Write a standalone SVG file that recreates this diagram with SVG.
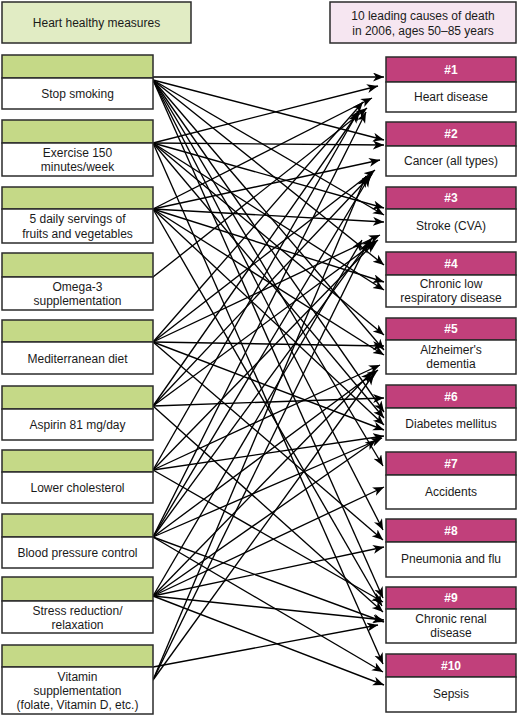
<svg xmlns="http://www.w3.org/2000/svg" width="518" height="717" viewBox="0 0 518 717">
<defs>
<style>
.hl{fill:#e1ecc4;stroke:#2b2b2b;stroke-width:1.5}
.hr{fill:#f6e6f1;stroke:#2b2b2b;stroke-width:1.5}
.g{fill:#c5d987;stroke:#2b2b2b;stroke-width:1.5}
.w{fill:#ffffff;stroke:#2b2b2b;stroke-width:1.5}
.m{fill:#c1407b;stroke:#2b2b2b;stroke-width:1.5}
text{font-family:"Liberation Sans",Arial,sans-serif;font-size:12px;fill:#1a1a1a;text-anchor:middle}
.n{fill:#ffffff;font-weight:bold}
#conn line{stroke:#000;stroke-width:1.35;marker-end:url(#ah)}
</style>
<marker id="ah" markerUnits="userSpaceOnUse" markerWidth="12" markerHeight="10" refX="11" refY="4.5" orient="auto">
<path d="M0,0 L11,4.5 L0,9 L3,4.5 z" fill="#000"/>
</marker>
</defs>
<rect width="518" height="717" fill="#ffffff"/>

<g id="header-left"><rect class="hl" x="2" y="2" width="189" height="41"/><text x="96.5" y="27">Heart healthy measures</text></g>
<g id="header-right"><rect class="hr" x="330" y="2" width="186" height="41"/><text x="423" y="20">10 leading causes of death</text><text x="423" y="35">in 2006, ages 50–85 years</text></g>

<g id="conn">
<line x1="152" y1="77" x2="384" y2="77"/>
<line x1="153" y1="80" x2="384" y2="140"/>
<line x1="153" y1="80" x2="384" y2="215"/>
<line x1="153" y1="80" x2="384" y2="265"/>
<line x1="153" y1="80" x2="384" y2="350"/>
<line x1="153" y1="80" x2="384" y2="412"/>
<line x1="153" y1="80" x2="383" y2="466"/>
<line x1="153" y1="80" x2="383" y2="530"/>
<line x1="153" y1="80" x2="383" y2="598"/>

<line x1="153" y1="143" x2="378" y2="86"/>
<line x1="153" y1="143" x2="384" y2="145"/>
<line x1="153" y1="143" x2="384" y2="208"/>
<line x1="153" y1="143" x2="384" y2="290"/>
<line x1="153" y1="143" x2="384" y2="335"/>
<line x1="153" y1="143" x2="384" y2="418"/>
<line x1="153" y1="143" x2="383" y2="664"/>

<line x1="153" y1="209" x2="372" y2="98"/>
<line x1="153" y1="209" x2="380" y2="160"/>
<line x1="153" y1="209" x2="384" y2="222"/>
<line x1="153" y1="209" x2="384" y2="282"/>
<line x1="153" y1="209" x2="384" y2="355"/>
<line x1="153" y1="209" x2="384" y2="425"/>
<line x1="153" y1="209" x2="382" y2="606"/>

<line x1="153" y1="277" x2="367" y2="108"/>

<line x1="153" y1="342" x2="363" y2="102"/>
<line x1="153" y1="342" x2="375" y2="170"/>
<line x1="153" y1="342" x2="380" y2="235"/>
<line x1="153" y1="342" x2="384" y2="346"/>
<line x1="153" y1="342" x2="384" y2="430"/>
<line x1="153" y1="342" x2="383" y2="540"/>

<line x1="153" y1="406" x2="360" y2="110"/>
<line x1="153" y1="406" x2="372" y2="174"/>
<line x1="153" y1="406" x2="378" y2="240"/>
<line x1="153" y1="406" x2="384" y2="398"/>
<line x1="153" y1="406" x2="383" y2="612"/>

<line x1="153" y1="470" x2="358" y2="112"/>
<line x1="153" y1="470" x2="375" y2="242"/>
<line x1="153" y1="470" x2="380" y2="365"/>
<line x1="153" y1="470" x2="384" y2="436"/>
<line x1="153" y1="470" x2="383" y2="602"/>

<line x1="153" y1="537" x2="366" y2="112"/>
<line x1="153" y1="537" x2="370" y2="176"/>
<line x1="153" y1="537" x2="372" y2="238"/>
<line x1="153" y1="537" x2="378" y2="370"/>
<line x1="153" y1="537" x2="382" y2="438"/>
<line x1="153" y1="537" x2="384" y2="622"/>
<line x1="153" y1="537" x2="383" y2="672"/>

<line x1="153" y1="596" x2="362" y2="240"/>
<line x1="153" y1="596" x2="372" y2="372"/>
<line x1="153" y1="596" x2="376" y2="440"/>
<line x1="153" y1="596" x2="384" y2="487"/>
<line x1="153" y1="596" x2="384" y2="547"/>
<line x1="153" y1="596" x2="384" y2="620"/>
<line x1="153" y1="596" x2="384" y2="685"/>

<line x1="153" y1="667" x2="378" y2="625"/>
<line x1="153" y1="680" x2="366" y2="176"/>
<line x1="153" y1="680" x2="368" y2="242"/>
<line x1="153" y1="680" x2="374" y2="374"/>
</g>

<g id="m1"><rect class="g" x="2" y="55" width="151" height="23"/><rect class="w" x="2" y="78" width="151" height="31"/><text x="77.5" y="98">Stop smoking</text></g>
<g id="m2"><rect class="g" x="2" y="120" width="151" height="23"/><rect class="w" x="2" y="143" width="151" height="33"/><text x="77.5" y="157">Exercise 150</text><text x="77.5" y="171">minutes/week</text></g>
<g id="m3"><rect class="g" x="2" y="187" width="151" height="22"/><rect class="w" x="2" y="209" width="151" height="34"/><text x="77.5" y="223">5 daily servings of</text><text x="77.5" y="238">fruits and vegetables</text></g>
<g id="m4"><rect class="g" x="2" y="253" width="151" height="24"/><rect class="w" x="2" y="277" width="151" height="33"/><text x="77.5" y="291">Omega-3</text><text x="77.5" y="305">supplementation</text></g>
<g id="m5"><rect class="g" x="2" y="320" width="151" height="22"/><rect class="w" x="2" y="342" width="151" height="32"/><text x="77.5" y="363">Mediterranean diet</text></g>
<g id="m6"><rect class="g" x="2" y="386" width="151" height="23"/><rect class="w" x="2" y="409" width="151" height="31"/><text x="77.5" y="429">Aspirin 81 mg/day</text></g>
<g id="m7"><rect class="g" x="2" y="450" width="151" height="22"/><rect class="w" x="2" y="472" width="151" height="31"/><text x="77.5" y="492">Lower cholesterol</text></g>
<g id="m8"><rect class="g" x="2" y="514" width="151" height="23"/><rect class="w" x="2" y="537" width="151" height="31"/><text x="77.5" y="557">Blood pressure control</text></g>
<g id="m9"><rect class="g" x="2" y="577" width="151" height="24"/><rect class="w" x="2" y="601" width="151" height="32"/><text x="77.5" y="615">Stress reduction/</text><text x="77.5" y="629">relaxation</text></g>
<g id="m10"><rect class="g" x="2" y="645" width="151" height="22"/><rect class="w" x="2" y="667" width="151" height="47"/><text x="77.5" y="681">Vitamin</text><text x="77.5" y="695">supplementation</text><text x="77.5" y="709">(folate, Vitamin D, etc.)</text></g>

<g id="c1"><rect class="m" x="386" y="57" width="130" height="25"/><rect class="w" x="386" y="82" width="130" height="30"/><text class="n" x="451" y="74">#1</text><text x="451" y="101">Heart disease</text></g>
<g id="c2"><rect class="m" x="386" y="122" width="130" height="24"/><rect class="w" x="386" y="146" width="130" height="30"/><text class="n" x="451" y="138">#2</text><text x="451" y="165">Cancer (all types)</text></g>
<g id="c3"><rect class="m" x="386" y="187" width="130" height="22"/><rect class="w" x="386" y="209" width="130" height="33"/><text class="n" x="451" y="202">#3</text><text x="451" y="230">Stroke (CVA)</text></g>
<g id="c4"><rect class="m" x="386" y="252" width="130" height="23"/><rect class="w" x="386" y="275" width="130" height="32"/><text class="n" x="451" y="268">#4</text><text x="451" y="288">Chronic low</text><text x="451" y="302">respiratory disease</text></g>
<g id="c5"><rect class="m" x="386" y="318" width="130" height="22"/><rect class="w" x="386" y="340" width="130" height="34"/><text class="n" x="451" y="333">#5</text><text x="451" y="354">Alzheimer's</text><text x="451" y="368">dementia</text></g>
<g id="c6"><rect class="m" x="386" y="385" width="130" height="23"/><rect class="w" x="386" y="408" width="130" height="32"/><text class="n" x="451" y="401">#6</text><text x="451" y="428">Diabetes mellitus</text></g>
<g id="c7"><rect class="m" x="386" y="452" width="130" height="23"/><rect class="w" x="386" y="475" width="130" height="34"/><text class="n" x="451" y="468">#7</text><text x="451" y="496">Accidents</text></g>
<g id="c8"><rect class="m" x="386" y="519" width="130" height="23"/><rect class="w" x="386" y="542" width="130" height="35"/><text class="n" x="451" y="535">#8</text><text x="451" y="563">Pneumonia and flu</text></g>
<g id="c9"><rect class="m" x="386" y="587" width="130" height="22"/><rect class="w" x="386" y="609" width="130" height="34"/><text class="n" x="451" y="602">#9</text><text x="451" y="623">Chronic renal</text><text x="451" y="637">disease</text></g>
<g id="c10"><rect class="m" x="386" y="654" width="130" height="23"/><rect class="w" x="386" y="677" width="130" height="35"/><text class="n" x="451" y="670">#10</text><text x="451" y="698">Sepsis</text></g>
</svg>
